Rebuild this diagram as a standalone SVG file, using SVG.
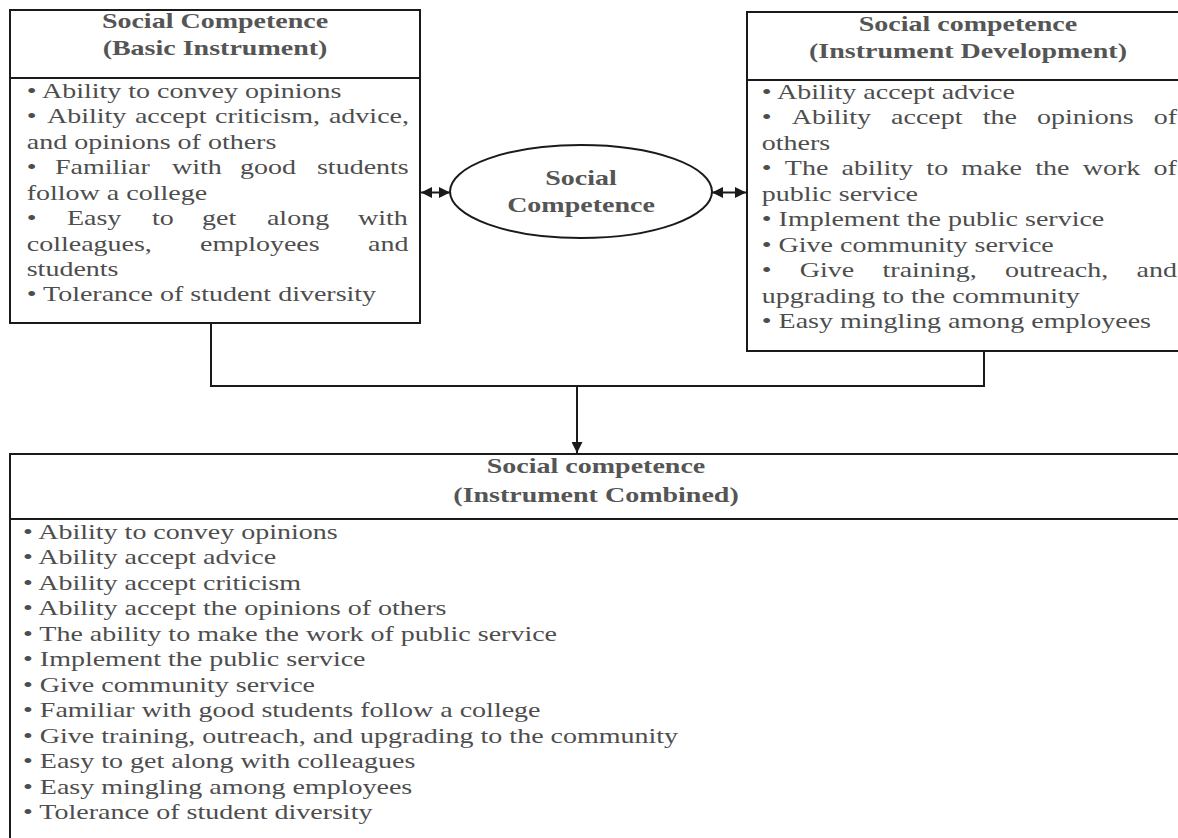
<svg xmlns="http://www.w3.org/2000/svg" width="1178" height="838" viewBox="0 0 1178 838">
<style>
.box{fill:#fff;stroke:#1a1a1a;stroke-width:2}
.div{stroke:#1a1a1a;stroke-width:2}
.t{font-family:"Liberation Serif","Times New Roman",serif;font-size:22px;fill:#4d4d4d}
.h{font-family:"Liberation Serif","Times New Roman",serif;font-size:22px;font-weight:bold;fill:#555;text-anchor:middle}
.con{fill:none;stroke:#1a1a1a;stroke-width:2}
</style>
<defs>
<marker id="ah" viewBox="0 0 10 10" refX="10" refY="5" markerWidth="5.5" markerHeight="5.5" orient="auto-start-reverse" markerUnits="strokeWidth">
<path d="M0,0 L10,5 L0,10 z" fill="#1a1a1a"/>
</marker>
</defs>
<rect width="1178" height="838" fill="#fff"/>

<g id="basic">
<rect class="box" x="10" y="10" width="410" height="313"/>
<line class="div" x1="10" y1="78" x2="420" y2="78"/>
<g transform="scale(1.273 1)">
<text class="h" x="168.9" y="28">Social Competence</text>
<text class="h" x="168.9" y="55">(Basic Instrument)</text>
<text class="t" x="21" y="98">• Ability to convey opinions</text>
<text class="t" y="123.5"><tspan x="21">•</tspan><tspan x="36.9">Ability</tspan><tspan x="106">accept</tspan><tspan x="168.9">criticism,</tspan><tspan x="258.4">advice,</tspan></text>
<text class="t" x="21" y="149">and opinions of others</text>
<text class="t" y="174.5"><tspan x="21">•</tspan><tspan x="43.2">Familiar</tspan><tspan x="135.1">with</tspan><tspan x="188.5">good</tspan><tspan x="249">students</tspan></text>
<text class="t" x="21" y="200">follow a college</text>
<text class="t" y="225.5"><tspan x="21">•</tspan><tspan x="52.6">Easy</tspan><tspan x="119.4">to</tspan><tspan x="158.7">get</tspan><tspan x="209.7">along</tspan><tspan x="281.2">with</tspan></text>
<text class="t" y="251"><tspan x="21">colleagues,</tspan><tspan x="157.1">employees</tspan><tspan x="289.1">and</tspan></text>
<text class="t" x="21" y="276">students</text>
<text class="t" x="21" y="301.5">• Tolerance of student diversity</text>
</g>
</g>

<g id="center">
<ellipse cx="581" cy="191.5" rx="131" ry="46.5" fill="#fff" stroke="#1a1a1a" stroke-width="2"/>
<g transform="scale(1.273 1)">
<text class="h" x="456.4" y="185">Social</text>
<text class="h" x="456.4" y="212">Competence</text>
</g>
</g>

<g id="development">
<rect class="box" x="747" y="12" width="445" height="339"/>
<line class="div" x1="747" y1="80" x2="1178" y2="80"/>
<g transform="scale(1.273 1)">
<text class="h" x="760.4" y="31">Social competence</text>
<text class="h" x="760.4" y="58">(Instrument Development)</text>
<text class="t" x="598.4" y="99">• Ability accept advice</text>
<text class="t" y="124.5"><tspan x="598.4">•</tspan><tspan x="622">Ability</tspan><tspan x="700">accept</tspan><tspan x="772">the</tspan><tspan x="814.7">opinions</tspan><tspan x="906.3">of</tspan></text>
<text class="t" x="598.4" y="150">others</text>
<text class="t" y="175.5"><tspan x="598.4">•</tspan><tspan x="616.5">The</tspan><tspan x="661.1">ability</tspan><tspan x="727.7">to</tspan><tspan x="755.2">make</tspan><tspan x="813.3">the</tspan><tspan x="850.6">work</tspan><tspan x="906.2">of</tspan></text>
<text class="t" x="598.4" y="201">public service</text>
<text class="t" x="598.4" y="226.5">• Implement the public service</text>
<text class="t" x="598.4" y="252">• Give community service</text>
<text class="t" y="277.5"><tspan x="598.4">•</tspan><tspan x="628.3">Give</tspan><tspan x="693.3">training,</tspan><tspan x="789.4">outreach,</tspan><tspan x="892.8">and</tspan></text>
<text class="t" x="598.4" y="303">upgrading to the community</text>
<text class="t" x="598.4" y="328.5">• Easy mingling among employees</text>
</g>
</g>

<g id="combined">
<rect class="box" x="10" y="454" width="1180" height="400"/>
<line class="div" x1="10" y1="519" x2="1178" y2="519"/>
<g transform="scale(1.273 1)">
<text class="h" x="468.2" y="473">Social competence</text>
<text class="h" x="468.2" y="502">(Instrument Combined)</text>
<text class="t" x="18.1" y="539">• Ability to convey opinions</text>
<text class="t" x="18.1" y="564.5">• Ability accept advice</text>
<text class="t" x="18.1" y="590">• Ability accept criticism</text>
<text class="t" x="18.1" y="615.5">• Ability accept the opinions of others</text>
<text class="t" x="18.1" y="641">• The ability to make the work of public service</text>
<text class="t" x="18.1" y="666.5">• Implement the public service</text>
<text class="t" x="18.1" y="692">• Give community service</text>
<text class="t" x="18.1" y="717.5">• Familiar with good students follow a college</text>
<text class="t" x="18.1" y="743">• Give training, outreach, and upgrading to the community</text>
<text class="t" x="18.1" y="768.5">• Easy to get along with colleagues</text>
<text class="t" x="18.1" y="794">• Easy mingling among employees</text>
<text class="t" x="18.1" y="819.5">• Tolerance of student diversity</text>
</g>
</g>

<g id="connectors">
<line class="con" x1="421" y1="192.5" x2="450" y2="192.5" marker-start="url(#ah)" marker-end="url(#ah)"/>
<line class="con" x1="712" y1="192.5" x2="746" y2="192.5" marker-start="url(#ah)" marker-end="url(#ah)"/>
<polyline class="con" points="211,323 211,386 984,386 984,351"/>
<line class="con" x1="577" y1="386" x2="577" y2="453" marker-end="url(#ah)"/>
</g>
</svg>
